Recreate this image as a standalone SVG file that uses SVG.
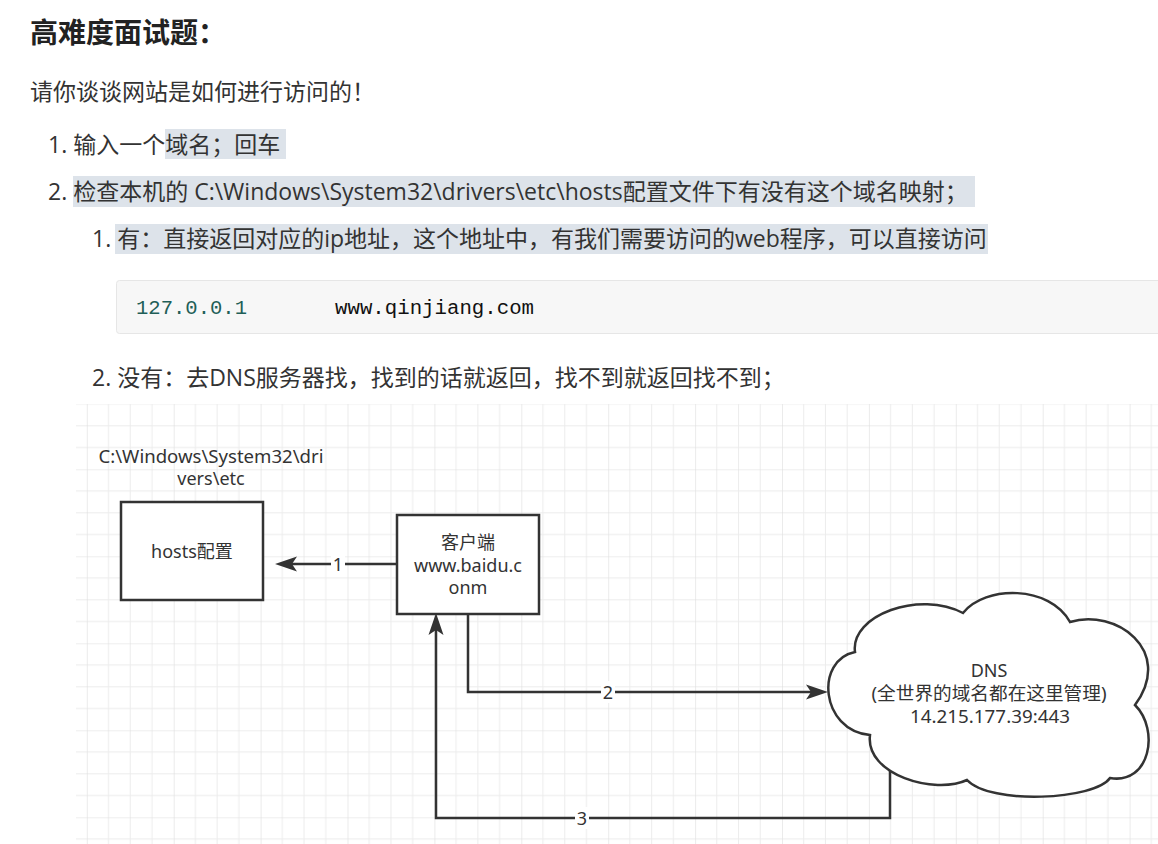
<svg xmlns="http://www.w3.org/2000/svg" width="1158" height="844" viewBox="0 0 1158 844">
<style>
  .doc { font-family: "Open Sans", "Noto Sans CJK SC", sans-serif; fill: #333333; font-size: 23px; }
  .title { font-family: "Open Sans", "Noto Sans CJK SC", sans-serif; fill: #222222; font-size: 28px; font-weight: bold; }
  .code { font-family: "Liberation Mono", "DejaVu Sans Mono", monospace; font-size: 20px; }
  .sel { fill: #dde3ea; }
  .dg { font-family: "Noto Sans", "Noto Sans CJK SC", sans-serif; fill: #333333; font-size: 18px; text-anchor: middle; }
  .box { fill: #ffffff; stroke: #333333; stroke-width: 2.5; }
  .conn { fill: none; stroke: #333333; stroke-width: 2.5; }
  .lblbg { fill: #ffffff; }
</style>
<defs>
  <pattern id="grid" patternUnits="userSpaceOnUse" x="86.8" y="469.3" width="86.9" height="87">
    <path d="M21.72 0V87M43.45 0V87M65.17 0V87M0 21.75H86.9M0 43.5H86.9M0 65.25H86.9" stroke="#ececec" stroke-width="1" fill="none"/>
    <path d="M0 0V87M0 0H86.9" stroke="#dedede" stroke-width="1.2" fill="none"/>
  </pattern>
  <marker id="arr" markerUnits="userSpaceOnUse" markerWidth="23" markerHeight="16" refX="5" refY="7.5" orient="auto" viewBox="0 0 23 15">
    <path d="M0 0 L22 7.5 L0 15 L5 7.5 Z" fill="#333333"/>
  </marker>
</defs>
<rect x="0" y="0" width="1158" height="844" fill="#ffffff"/>

<g id="doc">
  <text class="title" x="30" y="43">高难度面试题：</text>
  <text class="doc" x="30" y="100">请你谈谈网站是如何进行访问的！</text>
  <rect class="sel" x="165" y="129" width="121" height="30"/>
  <text class="doc" x="48" y="153">1. 输入一个域名；回车</text>
  <rect class="sel" x="73" y="176" width="902" height="31"/>
  <text class="doc" x="48" y="200">2. 检查本机的 C:\Windows\System32\drivers\etc\hosts配置文件下有没有这个域名映射；</text>
  <rect class="sel" x="115" y="224" width="873" height="30"/>
  <text class="doc" x="92" y="247">1. 有：直接返回对应的ip地址，这个地址中，有我们需要访问的web程序，可以直接访问</text>
  <rect x="116.5" y="280.5" width="1060" height="53" rx="3" fill="#f7f7f7" stroke="#e6e6e6" stroke-width="1"/>
  <text class="code" x="136" y="314" fill="#1f5f58" textLength="111" lengthAdjust="spacingAndGlyphs">127.0.0.1</text>
  <text class="code" x="335" y="314" fill="#111111" textLength="199" lengthAdjust="spacingAndGlyphs">www.qinjiang.com</text>
  <text class="doc" x="92" y="386">2. 没有：去DNS服务器找，找到的话就返回，找不到就返回找不到；</text>
</g>

<rect x="76" y="404" width="1082" height="440" fill="url(#grid)"/>

<g id="connectors">
  <path class="conn" d="M397 564 H292" marker-end="url(#arr)"/>
  <path class="conn" d="M468 615 V692 H811" marker-end="url(#arr)"/>
  <path class="conn" d="M890 770 V818 H436 V630" marker-end="url(#arr)"/>
  <rect class="lblbg" x="331" y="553" width="14" height="22"/>
  <text class="dg" x="338" y="571">1</text>
  <rect class="lblbg" x="601" y="681" width="14" height="22"/>
  <text class="dg" x="608" y="699">2</text>
  <rect class="lblbg" x="575" y="807" width="14" height="22"/>
  <text class="dg" x="582" y="825">3</text>
</g>

<g id="hosts-path">
  <text class="dg" x="211" y="463" textLength="225" lengthAdjust="spacingAndGlyphs">C:\Windows\System32\dri</text>
  <text class="dg" x="211" y="485">vers\etc</text>
</g>

<g id="hosts">
  <rect class="box" x="121" y="502" width="142" height="98"/>
  <text class="dg" x="192" y="558">hosts配置</text>
</g>

<g id="client">
  <rect class="box" x="397" y="515" width="142" height="99"/>
  <text class="dg" x="468" y="549">客户端</text>
  <text class="dg" x="468" y="572">www.baidu.c</text>
  <text class="dg" x="468" y="594">onm</text>
</g>

<g id="dns">
  <path class="box" d="M855 652 C850 615 920 590 963 613 C985 585 1050 585 1070 622 C1115 608 1175 650 1135 705 C1160 730 1150 785 1110 778 C1095 800 990 805 967 780 C935 795 865 775 870 735 C820 730 815 660 855 652 Z"/>
  <text class="dg" x="989" y="677">DNS</text>
  <text class="dg" x="989" y="700" textLength="235" lengthAdjust="spacingAndGlyphs">(全世界的域名都在这里管理)</text>
  <text class="dg" x="990" y="723" textLength="160" lengthAdjust="spacingAndGlyphs">14.215.177.39:443</text>
</g>
</svg>
